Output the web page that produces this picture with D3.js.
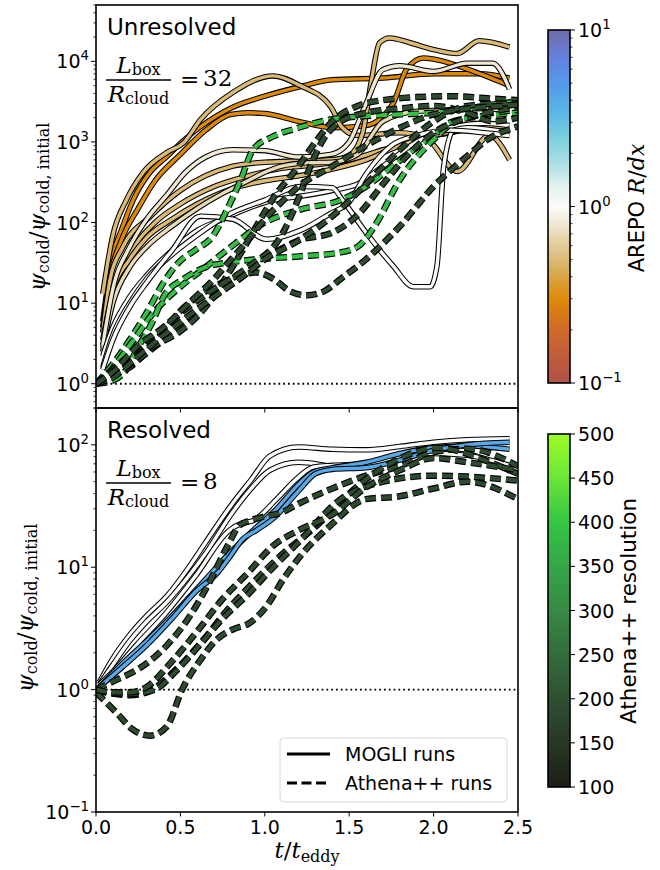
<!DOCTYPE html>
<html>
<head>
<meta charset="utf-8">
<script src="https://cdn.jsdelivr.net/npm/d3@7"></script>
<style>
body { margin: 0; background: #fff; }
text { font-family: "DejaVu Sans", sans-serif; fill: #000; }
.m { font-family: "DejaVu Serif", serif; }
</style>
</head>
<body>
<script>
const W = 660, H = 870;

// tick values
const xTicks = [0, 0.5, 1.0, 1.5, 2.0, 2.5];
const topYTicks = [1, 10, 100, 1000, 10000];
const botYTicks = [0.1, 1, 10, 100];
const rdxTicks = [0.1, 1, 10];
const resTicks = [100, 150, 200, 250, 300, 350, 400, 450, 500];

// colour map stops (AREPO R/dx, log) and Athena++ resolution
const rdxStops = [0.1, 0.2, 0.3, 0.45, 0.6, 0.8, 1, 1.3, 1.7, 2.5, 3.5, 5, 7, 10];
const rdxColors = ['#b0504a', '#d06a2a', '#de8a06', '#d8b060', '#e0cc98', '#efe8d4', '#fbfbf8',
                   '#e2f2f0', '#b0e2e2', '#78cede', '#58b4e6', '#5498ea', '#6680de', '#6c6ca6'];
const resStops = [100, 150, 200, 250, 300, 350, 400, 450, 500];
const resColors = ['#1c1e16', '#283826', '#2f5032', '#346c3c', '#368a46', '#35a648', '#34c444', '#6ae638', '#9cfc24'];

// unresolved box (L/R = 32): AREPO runs, c = R/dx
const unresolvedArepo = [
  {c: 0.3, t: [0.04,0.1,0.15,0.22,0.32,0.42,0.52,0.62,0.81,1.0,1.2,1.4,1.7,2.0,2.27,2.45],
           v: [6,40,80,190,420,660,1050,1550,2700,3700,4800,5900,6200,7000,7000,6200]},
  {c: 0.3, t: [0.04,0.08,0.15,0.25,0.35,0.5,0.65,0.8,0.9,1.0,1.2,1.4,1.6,1.76,1.84,1.94,2.06,2.2,2.45],
           v: [5,20,60,150,330,700,1400,2200,2300,2250,1800,1500,1600,3000,8000,11000,10000,8000,5000]},
  {c: 0.5, t: [0.04,0.1,0.18,0.28,0.42,0.52,0.62,0.81,1.05,1.21,1.39,1.46,1.55,1.8,1.96,2.14,2.33,2.45],
           v: [13,70,190,420,740,980,1900,4100,6600,5000,2750,1500,1200,1300,1100,430,1200,600]},
  {c: 0.5, t: [0.04,0.08,0.16,0.32,0.5,0.81,1.0,1.2,1.39,1.5,1.58,1.63,1.68,1.74,1.86,2.0,2.14,2.27,2.45],
           v: [4.3,18,50,118,250,500,560,580,600,680,1300,5500,17000,19500,17000,14000,12500,18000,15000]},
  {c: 0.5, t: [0.04,0.1,0.2,0.35,0.5,0.7,0.9,1.1,1.3,1.5,1.7,1.9,2.1,2.3,2.45],
           v: [2.5,12,40,100,170,280,380,470,520,600,800,1100,1300,1600,1500]},
  {c: 0.5, t: [0.04,0.1,0.2,0.3,0.45,0.6,0.8,1.0,1.2,1.4,1.6,1.8,2.0,2.2,2.45],
           v: [3.5,14,35,65,110,170,260,330,380,460,600,900,1200,1400,1300]},
  {c: 0.7, t: [0.04,0.1,0.2,0.3,0.45,0.6,0.75,0.9,1.0,1.1,1.25,1.4,1.55,1.7,1.9,2.1,2.3,2.45],
           v: [2.8,10,28,50,90,150,230,330,420,500,550,560,700,1800,2400,2500,2600,2400]},
  {c: 0.8, t: [0.04,0.1,0.2,0.3,0.42,0.53,0.65,0.81,1.0,1.2,1.39,1.5,1.6,1.7,1.8,2.0,2.2,2.35,2.45],
           v: [3,15,50,110,220,420,650,800,780,650,700,1000,3000,7900,8800,7500,9500,9500,4500]},
  {c: 1.0, t: [0.04,0.1,0.2,0.3,0.45,0.6,0.75,0.9,1.05,1.2,1.4,1.55,1.7,1.9,2.1,2.3,2.45],
           v: [2.2,5,12,22,45,80,110,150,190,210,250,300,500,1000,1500,1700,1600]},
  {c: 1.0, t: [0.04,0.1,0.2,0.3,0.45,0.6,0.8,1.0,1.21,1.4,1.46,1.6,1.76,1.88,1.98,2.02,2.06,2.12,2.2,2.45],
           v: [1.6,4,10,20,40,70,130,190,280,270,190,75,29,16,16,29,500,1400,1500,1300]},
  {c: 1.0, t: [0.04,0.1,0.2,0.3,0.45,0.62,0.81,1.01,1.21,1.39,1.5,1.6,1.75,1.9,2.1,2.3,2.45],
           v: [1.5,3.5,9,18,45,120,110,62,80,130,180,400,900,1200,1400,1300,1200]}
];

// unresolved box: Athena++ runs, c = resolution
const unresolvedAthena = [
  {c: 390, t: [0.0,0.05,0.12,0.2,0.3,0.4,0.49,0.59,0.69,0.78,0.86,0.93,1.05,1.2,1.39,1.6,1.8,2.0,2.2,2.35,2.5],
           v: [1.0,1.3,2,3.5,7.6,18,32,46,67,150,350,800,1170,1500,1900,2100,2200,2300,2600,2900,3200]},
  {c: 390, t: [0.0,0.05,0.2,0.35,0.5,0.65,0.8,1.0,1.21,1.45,1.6,1.73,1.86,2.0,2.1,2.3,2.5],
           v: [1.0,1.2,3,8,16,28,50,100,145,190,280,450,740,1200,1750,2100,2300]},
  {c: 390, t: [0.0,0.1,0.18,0.24,0.34,0.4,0.52,0.65,0.79,0.95,1.2,1.43,1.55,1.65,1.8,2.0,2.12,2.3,2.5],
           v: [1.0,1.1,1.5,2.6,6.2,12,20,28,32,35,38,42,50,90,340,1070,1750,2200,2500]},
  {c: 190, t: [0.0,0.1,0.2,0.3,0.4,0.5,0.6,0.7,0.85,0.95,1.05,1.15,1.25,1.35,1.45,1.6,1.8,2.0,2.2,2.32,2.5],
           v: [1.0,1.3,1.6,2.5,4.5,8,12,16,22,24,20,14,12.5,14,20,35,90,280,670,1070,1560]},
  {c: 190, t: [0.0,0.1,0.25,0.4,0.55,0.7,0.85,1.0,1.2,1.4,1.56,1.7,1.85,2.0,2.2,2.4,2.5],
           v: [1.0,1.3,2,3.5,6,12,20,35,60,75,130,300,700,1300,2000,2500,2700]},
  {c: 190, t: [0.0,0.1,0.2,0.35,0.5,0.65,0.75,0.87,0.95,1.05,1.2,1.3,1.4,1.55,1.7,1.9,2.1,2.3,2.5],
           v: [1.0,1.4,2,3,4.5,9,18,46,90,200,500,1000,1800,2800,3300,3600,3700,3500,3300]},
  {c: 190, t: [0.0,0.1,0.25,0.4,0.55,0.7,0.9,1.1,1.2,1.27,1.35,1.45,1.6,1.8,2.0,2.2,2.35,2.5],
           v: [1.0,1.5,2.8,5,9,15,28,70,200,500,1100,1800,2300,2600,2800,2300,1800,2000]},
  {c: 190, t: [0.0,0.1,0.25,0.4,0.55,0.7,0.85,1.0,1.2,1.4,1.6,1.8,2.0,2.2,2.4,2.5],
           v: [1.0,1.2,2.2,4,7,12,20,35,60,120,300,800,1800,2800,3000,3000]},
  {c: 190, t: [0.0,0.1,0.25,0.4,0.55,0.7,0.8,0.9,1.0,1.1,1.2,1.4,1.6,1.8,2.0,2.2,2.4,2.5],
           v: [1.0,1.4,3,5,10,20,35,60,110,180,280,500,900,1500,2200,2600,2800,2900]}
];

// resolved box (L/R = 8): MOGLI runs
const resolvedMogli = [
  {c: 1.0, t: [0.02,0.1,0.2,0.3,0.42,0.55,0.65,0.8,0.92,1.03,1.2,1.4,1.6,1.8,2.0,2.2,2.45],
           v: [1.15,1.8,2.8,4,5.8,10,16,32,52,81,96,92,91,97,105,110,112]},
  {c: 1.0, t: [0.02,0.1,0.2,0.3,0.42,0.55,0.65,0.8,0.92,1.03,1.2,1.46,1.6,1.8,2.0,2.2,2.45],
           v: [1.1,1.6,2.5,3.6,5.2,8.5,13,27,44,62,72,66,70,80,87,84,61]},
  {c: 1.0, t: [0.02,0.12,0.25,0.4,0.59,0.79,0.87,0.93,1.07,1.19,1.29,1.4,1.6,1.8,2.0,2.2,2.45],
           v: [1.1,1.5,2.4,4,8.5,20,23,24,36,53,66,68,70,78,85,82,68]},
  {c: 4.0, t: [0.02,0.15,0.3,0.43,0.65,0.79,0.93,1.07,1.19,1.29,1.4,1.6,1.8,2.0,2.2,2.45],
           v: [1.05,1.6,2.5,3.75,8,13,20,30,46,60,65,72,85,95,98,92]},
  {c: 4.0, t: [0.02,0.15,0.3,0.45,0.59,0.72,0.79,0.87,0.95,1.05,1.2,1.3,1.4,1.6,1.8,2.0,2.2,2.45],
           v: [1.05,1.5,2.3,3.8,6.3,9,12,17,20,25,42,58,63,65,75,90,100,105]}
];

// resolved box: Athena++ runs
const resolvedAthena = [
  {c: 190, t: [0,0.12,0.26,0.42,0.54,0.66,0.78,0.85,0.91,1.0,1.1,1.2,1.4,1.6,1.8,2.0,2.2,2.5],
           v: [1,1.2,1.5,2.3,3.7,7,15,22,24,26,28,33,44,56,67,87,93,67]},
  {c: 190, t: [0,0.1,0.2,0.3,0.46,0.62,0.78,0.91,1.11,1.31,1.39,1.5,1.7,1.9,2.0,2.1,2.3,2.5],
           v: [1,0.93,0.9,0.95,1.4,2.4,4.5,7,13,22,28,40,65,88,95,92,75,58]},
  {c: 190, t: [0,0.1,0.2,0.35,0.47,0.6,0.75,0.9,1.05,1.2,1.45,1.7,2.0,2.2,2.5],
           v: [1,0.93,0.92,1.0,1.4,2.2,3.8,6,10,16,36,50,56,55,51]},
  {c: 190, t: [0,0.12,0.22,0.32,0.42,0.51,0.62,0.72,0.81,0.91,1.01,1.11,1.21,1.39,1.6,1.8,2.0,2.2,2.5],
           v: [0.95,0.65,0.47,0.42,0.5,1.0,1.76,2.6,3.1,3.5,4.8,8,12.3,22,36,38,44,50,36]},
  {c: 190, t: [0,0.1,0.2,0.3,0.45,0.6,0.75,0.9,1.05,1.2,1.4,1.6,1.8,2.0,2.2,2.5],
           v: [1,0.95,0.95,1.05,1.7,3,5.5,9,15,20,27,45,62,78,72,62]}
];

// scales
const x = d3.scaleLinear([0, 2.5], [96, 518]);
const yTop = d3.scaleLog([0.5, 5e4], [408, 5]);
const yBot = d3.scaleLog([0.1, 200], [812, 408]);
const rdxColor = d3.scaleLog(rdxStops, rdxColors).interpolate(d3.interpolateRgb);
const resColor = d3.scaleLinear(resStops, resColors);

const svg = d3.select('body').append('svg').attr('width', W).attr('height', H);

// clip each panel
const defs = svg.append('defs');
defs.append('clipPath').attr('id', 'clipTop').append('rect')
    .attr('x', 96).attr('y', 5).attr('width', 422).attr('height', 403);
defs.append('clipPath').attr('id', 'clipBot').append('rect')
    .attr('x', 96).attr('y', 408).attr('width', 422).attr('height', 404);

function drawRuns(g, runs, y, color, dashed) {
  const line = d3.line().x(d => x(d[0])).y(d => y(d[1])).curve(d3.curveMonotoneX);
  runs.forEach(r => {
    const d = line(r.t.map((t, i) => [t, r.v[i]]));
    g.append('path').attr('d', d).attr('fill', 'none')
      .attr('stroke', '#000').attr('stroke-width', dashed ? 6.5 : 5.5)
      .attr('stroke-dasharray', dashed ? '11,5' : null);
    g.append('path').attr('d', d).attr('fill', 'none')
      .attr('stroke', color(r.c)).attr('stroke-width', dashed ? 4.2 : 3.4)
      .attr('stroke-dasharray', dashed ? '11,5' : null);
  });
}

function dotted(g, y) {
  g.append('line').attr('x1', x(0)).attr('x2', x(2.5)).attr('y1', y(1)).attr('y2', y(1))
    .attr('stroke', '#000').attr('stroke-width', 1.8).attr('stroke-dasharray', '1.8,3');
}

const gTop = svg.append('g').attr('clip-path', 'url(#clipTop)');
dotted(gTop, yTop);
drawRuns(gTop, unresolvedArepo, yTop, rdxColor, false);
drawRuns(gTop, unresolvedAthena, yTop, resColor, true);

const gBot = svg.append('g').attr('clip-path', 'url(#clipBot)');
dotted(gBot, yBot);
drawRuns(gBot, resolvedMogli, yBot, rdxColor, false);
drawRuns(gBot, resolvedAthena, yBot, resColor, true);

// power-of-ten label as text with a superscript
function pow10(sel, v, size) {
  const e = Math.round(Math.log10(v));
  sel.append('tspan').text('10').attr('font-size', size);
  sel.append('tspan').text(e < 0 ? '\u2212' + (-e) : e).attr('font-size', size * 0.7).attr('dy', -size * 0.42);
}

function minorLog(lo, hi) {
  const out = [];
  for (let e = -2; e <= 5; e++) for (let m = 2; m <= 9; m++) {
    const v = m * Math.pow(10, e);
    if (v >= lo * 0.999 && v <= hi * 1.001) out.push(v);
  }
  return out;
}

// y axes
function yAxis(y, ticks, lo, hi) {
  const g = svg.append('g');
  ticks.forEach(v => {
    g.append('line').attr('x1', 91).attr('x2', 96).attr('y1', y(v)).attr('y2', y(v)).attr('stroke', '#000').attr('stroke-width', 1);
    const t = g.append('text').attr('x', 89).attr('y', y(v) + 7).attr('text-anchor', 'end');
    pow10(t, v, 19);
  });
  minorLog(lo, hi).forEach(v => {
    g.append('line').attr('x1', 93.5).attr('x2', 96).attr('y1', y(v)).attr('y2', y(v)).attr('stroke', '#000').attr('stroke-width', 0.8);
  });
}
yAxis(yTop, topYTicks, 0.5, 5e4);
yAxis(yBot, botYTicks, 0.1, 200);

// x ticks
xTicks.forEach(v => {
  svg.append('line').attr('x1', x(v)).attr('x2', x(v)).attr('y1', 408).attr('y2', 412.5).attr('stroke', '#000');
  svg.append('line').attr('x1', x(v)).attr('x2', x(v)).attr('y1', 812).attr('y2', 816.5).attr('stroke', '#000');
  svg.append('text').attr('x', x(v)).attr('y', 834).attr('text-anchor', 'middle').attr('font-size', 19).text(v.toFixed(1));
});

// frames
svg.append('rect').attr('x', 96).attr('y', 5).attr('width', 422).attr('height', 403)
  .attr('fill', 'none').attr('stroke', '#000').attr('stroke-width', 1.6);
svg.append('rect').attr('x', 96).attr('y', 408).attr('width', 422).attr('height', 404)
  .attr('fill', 'none').attr('stroke', '#000').attr('stroke-width', 1.6);

// axis labels
function psiLabel(cx, cy) {
  const t = svg.append('text').attr('class', 'm').attr('text-anchor', 'middle')
    .attr('transform', `translate(${cx},${cy}) rotate(-90)`);
  t.append('tspan').text('\u03c8').attr('font-style', 'italic').attr('font-size', 23);
  t.append('tspan').text('cold').attr('font-size', 16).attr('dy', 4);
  t.append('tspan').text('/').attr('font-size', 23).attr('dy', -4);
  t.append('tspan').text('\u03c8').attr('font-style', 'italic').attr('font-size', 23);
  t.append('tspan').text('cold, initial').attr('font-size', 16).attr('dy', 4);
}
psiLabel(45, 207);
psiLabel(33, 608);

const xl = svg.append('text').attr('class', 'm').attr('x', 307).attr('y', 858).attr('text-anchor', 'middle');
xl.append('tspan').text('t').attr('font-style', 'italic').attr('font-size', 23);
xl.append('tspan').text('/').attr('font-size', 23);
xl.append('tspan').text('t').attr('font-style', 'italic').attr('font-size', 23);
xl.append('tspan').text('eddy').attr('font-size', 16).attr('dy', 4);

// panel annotations
function boxRatio(dy, value) {
  svg.append('text').attr('x', 107).attr('y', 35 + dy).attr('font-size', 23).text(dy ? 'Resolved' : 'Unresolved');
  const num = svg.append('text').attr('class', 'm').attr('x', 138.5).attr('y', 73 + dy).attr('text-anchor', 'middle');
  num.append('tspan').text('L').attr('font-style', 'italic').attr('font-size', 23);
  num.append('tspan').text('box').attr('font-size', 16).attr('dy', 2);
  svg.append('line').attr('x1', 106).attr('x2', 171).attr('y1', 80 + dy).attr('y2', 80 + dy).attr('stroke', '#000').attr('stroke-width', 1.3);
  const den = svg.append('text').attr('class', 'm').attr('x', 138.5).attr('y', 102 + dy).attr('text-anchor', 'middle');
  den.append('tspan').text('R').attr('font-style', 'italic').attr('font-size', 23);
  den.append('tspan').text('cloud').attr('font-size', 16).attr('dy', 2);
  svg.append('text').attr('class', 'm').attr('x', 180).attr('y', 86.5 + dy).attr('font-size', 23).text('=');
  svg.append('text').attr('class', 'm').attr('x', 203).attr('y', 85.5 + dy).attr('font-size', 23).text(value);
}
boxRatio(0, '32');
boxRatio(403, '8');

// legend
const lg = svg.append('g');
lg.append('rect').attr('x', 280).attr('y', 738).attr('width', 227).attr('height', 64).attr('rx', 4)
  .attr('fill', '#fff').attr('fill-opacity', 0.8).attr('stroke', '#d6d6d6');
lg.append('line').attr('x1', 287).attr('x2', 330).attr('y1', 754).attr('y2', 754).attr('stroke', '#000').attr('stroke-width', 2.8);
lg.append('line').attr('x1', 287).attr('x2', 330).attr('y1', 783).attr('y2', 783).attr('stroke', '#000').attr('stroke-width', 3.2).attr('stroke-dasharray', '10,4.5');
lg.append('text').attr('x', 345).attr('y', 761).attr('font-size', 19).text('MOGLI runs');
lg.append('text').attr('x', 345).attr('y', 790).attr('font-size', 19).text('Athena++ runs');

// colorbars
function gradient(id, scale, lo, hi, log) {
  const gr = defs.append('linearGradient').attr('id', id).attr('x1', 0).attr('x2', 0).attr('y1', 1).attr('y2', 0);
  d3.range(0, 1.0001, 0.02).forEach(f => {
    const v = log ? lo * Math.pow(hi / lo, f) : lo + (hi - lo) * f;
    gr.append('stop').attr('offset', f).attr('stop-color', scale(v));
  });
}
gradient('gRdx', rdxColor, 0.1, 10, true);
gradient('gRes', resColor, 100, 500, false);

const cbTop = d3.scaleLog([0.1, 10], [383, 30]);
const cbBot = d3.scaleLinear([100, 500], [787, 434]);

svg.append('rect').attr('x', 548).attr('y', 30).attr('width', 22).attr('height', 353)
  .attr('fill', 'url(#gRdx)').attr('stroke', '#000').attr('stroke-width', 1.6);
rdxTicks.forEach(v => {
  svg.append('line').attr('x1', 570).attr('x2', 575).attr('y1', cbTop(v)).attr('y2', cbTop(v)).attr('stroke', '#000');
  const t = svg.append('text').attr('x', 578).attr('y', cbTop(v) + 7);
  pow10(t, v, 19);
});
minorLog(0.1, 10).forEach(v => {
  svg.append('line').attr('x1', 570).attr('x2', 572.5).attr('y1', cbTop(v)).attr('y2', cbTop(v)).attr('stroke', '#000').attr('stroke-width', 0.8);
});
const cl1 = svg.append('text').attr('text-anchor', 'middle').attr('transform', 'translate(644,208) rotate(-90)');
cl1.append('tspan').text('AREPO ').attr('font-size', 21);
cl1.append('tspan').text('R').attr('class', 'm').attr('font-style', 'italic').attr('font-size', 22);
cl1.append('tspan').text('/').attr('class', 'm').attr('font-size', 22);
cl1.append('tspan').text('dx').attr('class', 'm').attr('font-style', 'italic').attr('font-size', 22);

svg.append('rect').attr('x', 548).attr('y', 434).attr('width', 22).attr('height', 353)
  .attr('fill', 'url(#gRes)').attr('stroke', '#000').attr('stroke-width', 1.6);
resTicks.forEach(v => {
  svg.append('line').attr('x1', 570).attr('x2', 575).attr('y1', cbBot(v)).attr('y2', cbBot(v)).attr('stroke', '#000');
  svg.append('text').attr('x', 578).attr('y', cbBot(v) + 7).attr('font-size', 19).text(v);
});
svg.append('text').attr('text-anchor', 'middle').attr('transform', 'translate(636,611) rotate(-90)')
  .attr('font-size', 21.5).text('Athena++ resolution');
</script>
</body>
</html>
